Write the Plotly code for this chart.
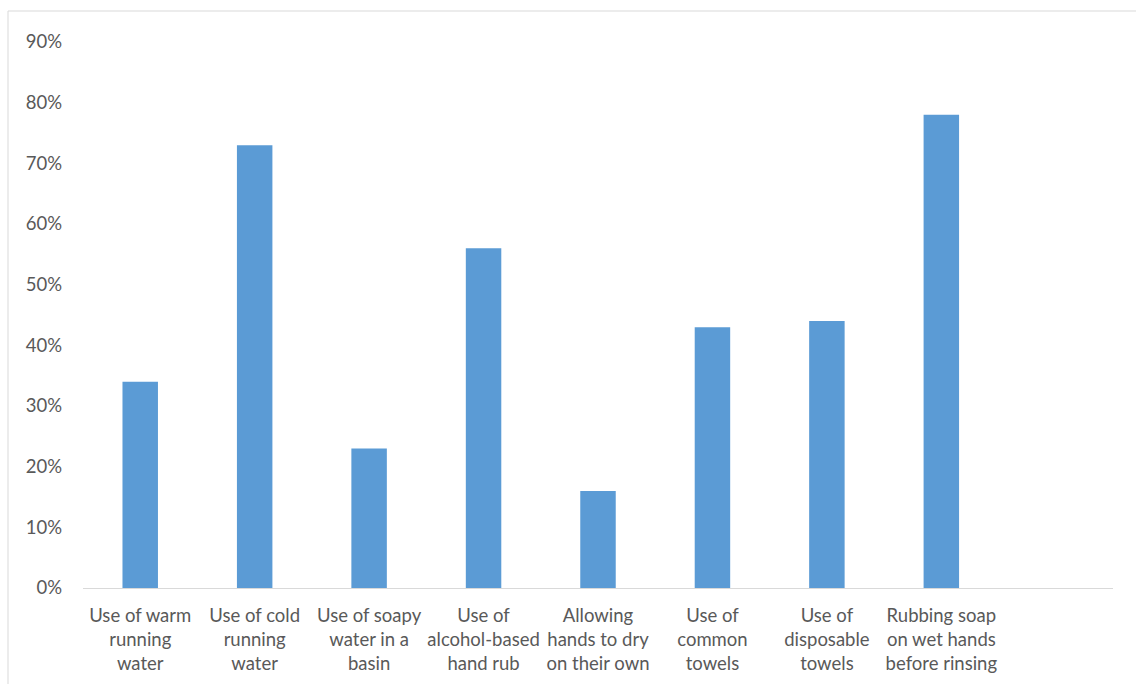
import plotly.graph_objects as go

categories = [
    "Use of warm<br>running<br>water",
    "Use of cold<br>running<br>water",
    "Use of soapy<br>water in a<br>basin",
    "Use of<br>alcohol-based<br>hand rub",
    "Allowing<br>hands to dry<br>on their own",
    "Use of<br>common<br>towels",
    "Use of<br>disposable<br>towels",
    "Rubbing soap<br>on wet hands<br>before rinsing",
]
values = [0.34, 0.73, 0.23, 0.56, 0.16, 0.43, 0.44, 0.78]
y_ticks = [0, 0.1, 0.2, 0.3, 0.4, 0.5, 0.6, 0.7, 0.8, 0.9]

W, H = 1136, 684
M_L, M_R, M_T, M_B = 83, 23, 42, 96
plot_w = W - M_L - M_R
plot_h = H - M_T - M_B

fig = go.Figure(
    go.Bar(
        x=categories,
        y=values,
        marker=dict(color="#5b9bd5", line=dict(width=0)),
        hoverinfo="x+y",
    )
)

text_font = dict(family="Lato, Open Sans, sans-serif", size=18.5, color="#595959")

fig.update_layout(
    width=W,
    height=H,
    margin=dict(l=M_L, r=M_R, t=M_T, b=M_B),
    paper_bgcolor="white",
    plot_bgcolor="white",
    bargap=0.69,
    showlegend=False,
    font=text_font,
    xaxis=dict(
        type="category",
        range=[-0.5, 8.5],
        showline=True,
        linecolor="#d9d9d9",
        linewidth=1,
        showgrid=False,
        ticks="",
        tickangle=0,
        tickfont=text_font,
        ticklabelstandoff=11,
        automargin=False,
    ),
    yaxis=dict(
        range=[0, 0.9],
        tickvals=y_ticks,
        tickformat=".0%",
        showgrid=False,
        zeroline=False,
        showline=False,
        ticks="",
        tickfont=text_font,
        ticklabelstandoff=20,
        automargin=False,
    ),
)

# light frame around the chart area, open toward the right and bottom edges
fig.add_shape(
    type="rect",
    xref="paper",
    yref="paper",
    x0=(8 - M_L) / plot_w,
    x1=(W + 20 - M_L) / plot_w,
    y0=-(H + 20 - M_T - plot_h) / plot_h,
    y1=(M_T + plot_h - 11) / plot_h,
    line=dict(color="#d9d9d9", width=1),
    fillcolor="rgba(0,0,0,0)",
    layer="below",
)

fig.write_html("out.html")
